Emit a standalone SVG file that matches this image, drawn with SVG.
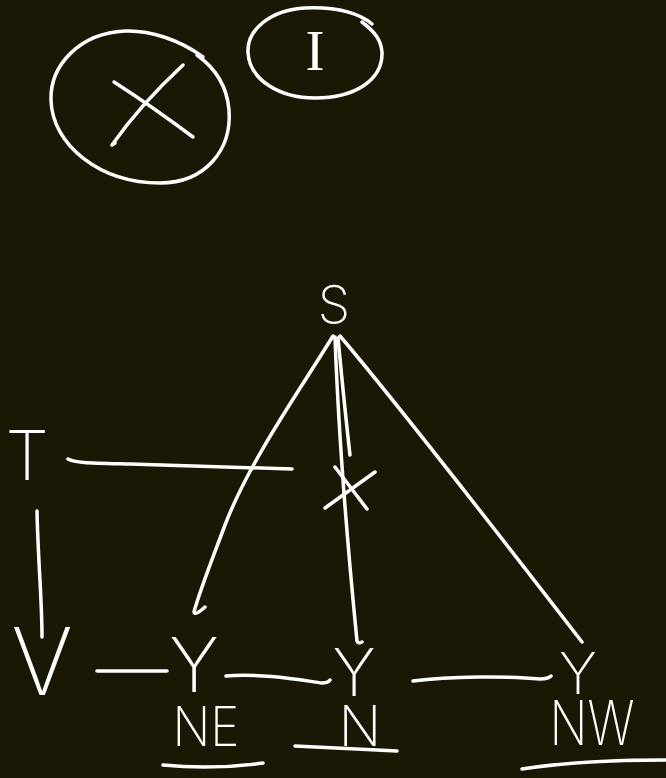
<svg xmlns="http://www.w3.org/2000/svg" width="666" height="778" viewBox="0 0 666 778">
<style>
.s{fill:none;stroke:#fff;stroke-width:3.5;stroke-linecap:round;stroke-linejoin:round}
.t{fill:#fff;font-family:Inter,Roboto,Lato,"DejaVu Sans",sans-serif;font-weight:200;text-anchor:middle}
.serif{fill:#fff;font-family:"Liberation Serif","DejaVu Serif",serif;text-anchor:middle}
</style>
<rect width="666" height="778" fill="#1a1804"/>
<g id="circle-x">
<path class="s" d="M203,57 C180,40 150,30 125,31 C80,33 50,65 51,100 C52,145 100,183 160,183 C205,183 232,150 229,110 C227,85 215,68 197,55"/>
<path class="s" d="M114,82 Q150,105 193,137"/>
<path class="s" d="M183,65 Q140,105 112,145 L115,143"/>
</g>
<g id="circle-i">
<path class="s" d="M372,24 C355,10 330,7 305,8 C270,10 247,30 248,52 C249,80 280,98 315,98 C355,98 383,80 382,52 C381,40 375,32 362,22"/>
<text class="serif" x="315" y="70" font-size="57">I</text>
</g>
<g id="node-S"><text class="t" x="334" y="323" font-size="52">S</text></g>
<g id="node-T"><text class="t" x="27" y="480" font-size="69">T</text></g>
<g id="node-V"><text class="t" x="42" y="695" font-size="94">V</text></g>
<g id="node-Y1"><text class="t" x="194" y="692" font-size="76">Y</text></g>
<g id="node-Y2"><text class="t" x="354" y="696" font-size="66">Y</text></g>
<g id="node-Y3"><text class="t" x="578" y="694" font-size="58">Y</text></g>
<g id="label-NE">
<text class="t" x="206" y="746" font-size="55" textLength="67" lengthAdjust="spacingAndGlyphs">NE</text>
<path class="s" d="M163,765 Q212,770 263,763"/>
</g>
<g id="label-N">
<text class="t" x="360" y="746" font-size="56">N</text>
<path class="s" d="M295,746 L397,751"/>
</g>
<g id="label-NW">
<text class="t" x="592" y="745" font-size="61" textLength="85" lengthAdjust="spacingAndGlyphs">NW</text>
<path class="s" d="M522,769 Q580,760 666,760"/>
</g>
<g id="connectors">
<path class="s" d="M68,459 C75,463 90,463 130,464 L292,469"/>
<path class="s" d="M37,511 C38,560 42,600 42,637"/>
<path class="s" d="M97,671 L167,671"/>
<path class="s" d="M226,676 C260,673 300,680 322,683 Q328,683 330,680"/>
<path class="s" d="M413,681 C450,676 510,676 540,679 Q548,679 551,676"/>
<path class="s" d="M333,336 C300,390 250,460 225,525 C212,560 200,590 194,612 Q195,616 205,607"/>
<path class="s" d="M335,337 C338,420 345,520 357,641 Q358,644 362,642"/>
<path class="s" d="M338,338 C342,380 346,420 350,455"/>
<path class="s" d="M340,336 C380,383 480,510 582,642"/>
<path class="s" d="M325,508 L375,472"/>
<path class="s" d="M335,467 L367,509"/>
</g>
</svg>
